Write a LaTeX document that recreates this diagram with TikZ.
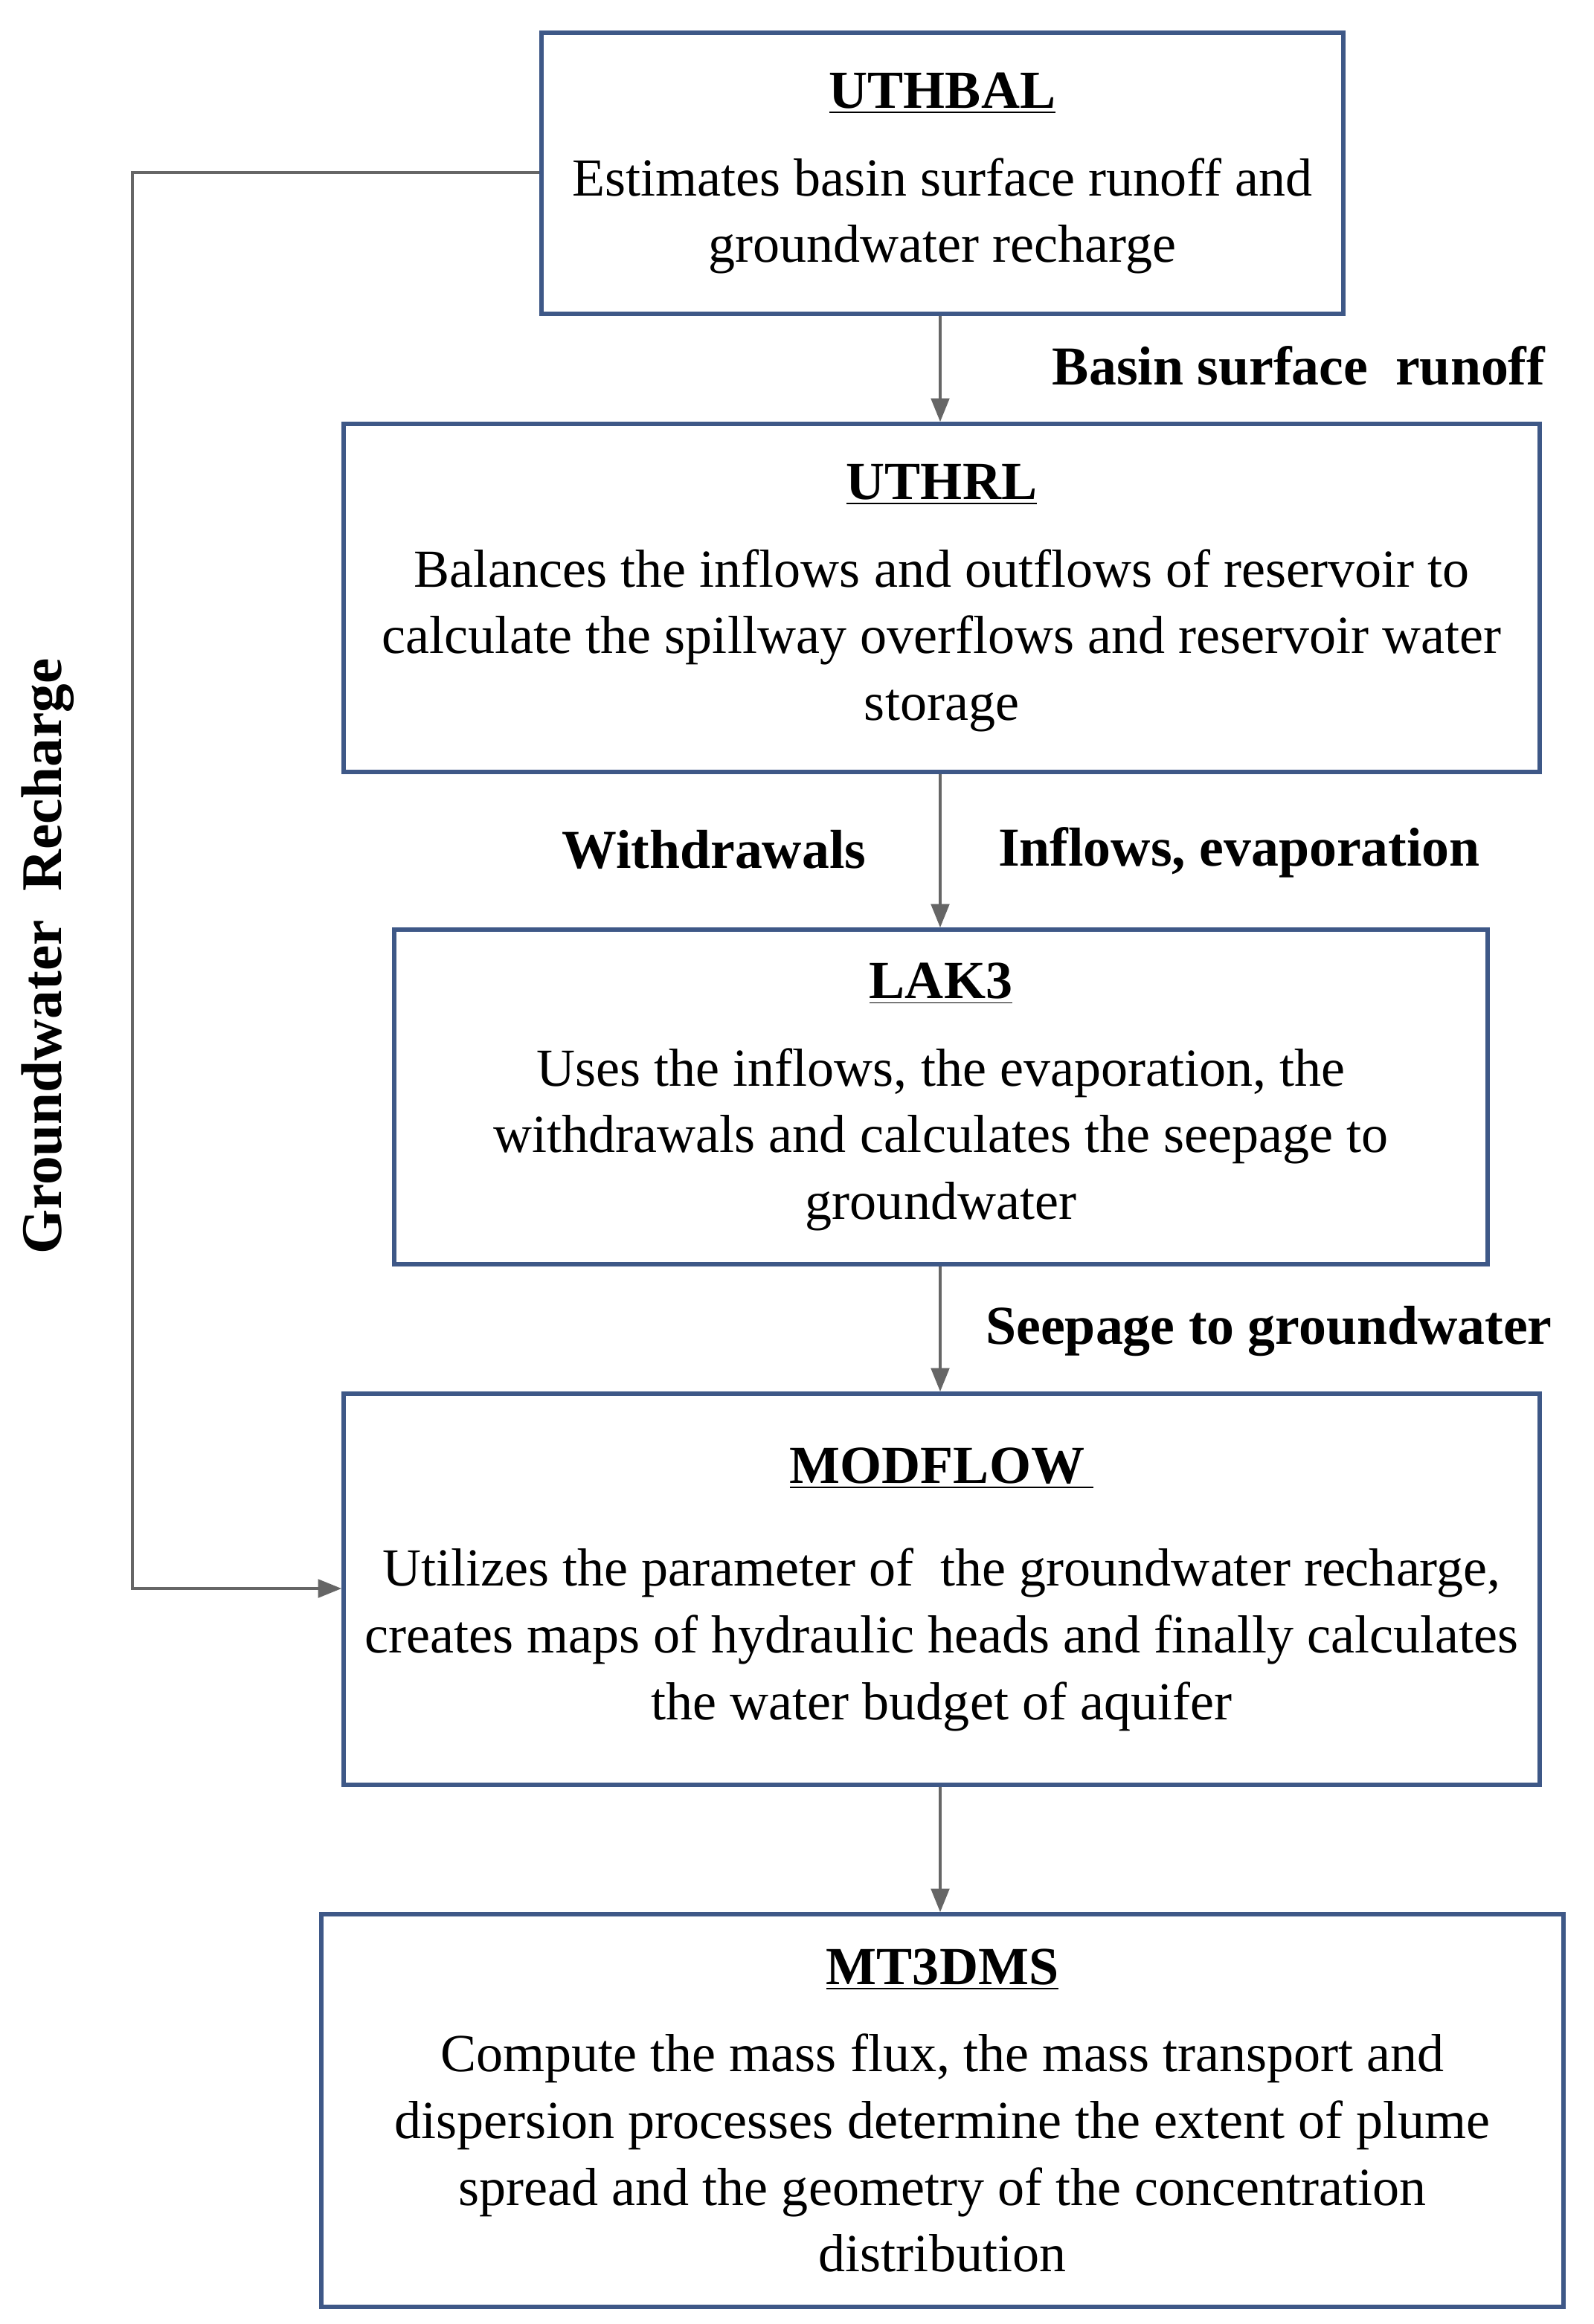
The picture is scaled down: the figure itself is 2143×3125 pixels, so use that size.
\documentclass[tikz,border=0pt]{standalone}
\usepackage{fontspec}
\setmainfont{Liberation Serif}
\usetikzlibrary{arrows.meta}
\definecolor{bx}{RGB}{62,88,135}
\begin{document}
\begin{tikzpicture}[x=0.1mm,y=-0.1mm,
 box/.style={draw=bx, line width=1.6pt, align=center, inner sep=0pt,
   font=\fontsize{20.5}{25.5}\selectfont},
 arr/.style={draw=black!60, line width=1pt, -{Triangle[length=9pt,width=7pt]}},
 lab/.style={font=\fontsize{21}{25}\selectfont\bfseries}]
\useasboundingbox (0,0) rectangle (2143,3125);
\node[box, minimum width=1078*0.1mm, minimum height=378*0.1mm] (a) at (1267,233)
 {\underline{\textbf{UTHBAL}}\\[8pt]Estimates basin surface runoff and\\groundwater recharge};
\node[box, minimum width=1608*0.1mm, minimum height=468*0.1mm] (b) at (1266,804)
 {\underline{\textbf{UTHRL}}\\[8pt]Balances the inflows and outflows of reservoir to\\calculate the spillway overflows and reservoir water\\storage};
\node[box, minimum width=1470*0.1mm, minimum height=450*0.1mm] (c) at (1265,1475)
 {\underline{\textbf{LAK3}}\\[8pt]Uses the inflows, the evaporation, the\\withdrawals and calculates the seepage to\\groundwater};
\node[box, minimum width=1608*0.1mm, minimum height=526*0.1mm] (d) at (1266,2137)
 {\underline{\textbf{MODFLOW\,}}\\[14pt]Utilizes the parameter of\ \ the groundwater recharge,\\creates maps of hydraulic heads and finally calculates\\the water budget of aquifer};
\node[box, minimum width=1670*0.1mm, minimum height=528*0.1mm] (e) at (1267,2838)
 {\underline{\textbf{MT3DMS}}\\[8pt]Compute the mass flux, the mass transport and\\dispersion processes determine the extent of plume\\spread and the geometry of the concentration\\distribution};
\draw[arr] (a.south -| 1264,0) -- (b.north -| 1264,0);
\draw[arr] (b.south -| 1264,0) -- (c.north -| 1264,0);
\draw[arr] (c.south -| 1264,0) -- (d.north -| 1264,0);
\draw[arr] (d.south -| 1264,0) -- (e.north -| 1264,0);
\coordinate (p1) at (178,232);
\coordinate (p2) at (178,2136);
\draw[arr] (a.west |- p1) -- (p1) -- (p2) -- (d.west |- p2);
\node[lab, font=\fontsize{22}{26}\selectfont\bfseries, rotate=90] (g) at (64,1286) {Groundwater\ \ Recharge};
\node[lab] (l1) at (1746,492) {Basin surface\ \ runoff};
\node[lab] (l2) at (960,1142) {Withdrawals};
\node[lab] (l3) at (1666,1146) {Inflows, evaporation};
\node[lab] (l4) at (1706,1790) {Seepage to groundwater};
\end{tikzpicture}
\end{document}
